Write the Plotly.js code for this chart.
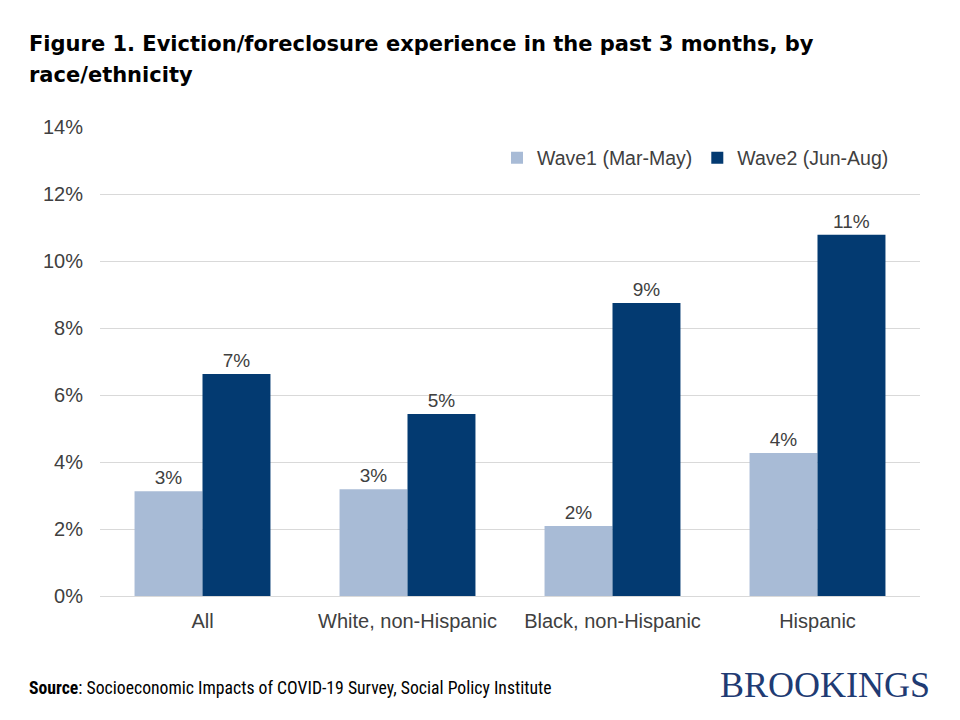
<!DOCTYPE html>
<html><head><meta charset="utf-8">
<script src="https://cdn.plot.ly/plotly-3.0.1.min.js"></script>
<style>html,body{margin:0;padding:0;background:#fff}#chart{width:960px;height:720px}</style>
</head><body><div id="chart"></div>
<script>
const categories = ["All", "White, non-Hispanic", "Black, non-Hispanic", "Hispanic"];
const wave1 = [3.13, 3.19, 2.09, 4.27];
const wave2 = [6.63, 5.43, 8.75, 10.78];
const wave1Labels = ["3%", "3%", "2%", "4%"];
const wave2Labels = ["7%", "5%", "9%", "11%"];
const seriesNames = ["Wave1 (Mar-May)", "Wave2 (Jun-Aug)"];
const yTicks = [0, 2, 4, 6, 8, 10, 12, 14];
const yTickLabels = ["0%", "2%", "4%", "6%", "8%", "10%", "12%", "14%"];
const titleLines = ["Figure 1. Eviction/foreclosure experience in the past 3 months, by", "race/ethnicity"];

const bodyFont = "'Liberation Sans', Arial, sans-serif";
const narrowFont = "'Liberation Sans Narrow', 'Arial Narrow', 'Roboto Condensed', 'Liberation Sans', sans-serif";
const titleFont = "'DejaVu Sans', 'Liberation Sans', sans-serif";

// plot area pixels: top 127, bottom 596
const py = p => (596 - p) / 469;
const px = p => (p - 100) / 820;

const traces = [
  {type: "bar", name: seriesNames[0], x: categories, y: wave1, text: wave1Labels,
   textposition: "outside", cliponaxis: false, constraintext: "none", marker: {color: "#A8BBD6"},
   textfont: {size: 19, color: "#404040", family: bodyFont}, hoverinfo: "none"},
  {type: "bar", name: seriesNames[1], x: categories, y: wave2, text: wave2Labels,
   textposition: "outside", cliponaxis: false, constraintext: "none", marker: {color: "#033A71"},
   textfont: {size: 19, color: "#404040", family: bodyFont}, hoverinfo: "none"}
];

const layout = {
  width: 960, height: 720,
  margin: {l: 100, r: 40, t: 127, b: 124},
  paper_bgcolor: "#fff", plot_bgcolor: "#fff",
  barmode: "group", bargap: 0.337, bargroupgap: 0,
  font: {family: bodyFont, color: "#404040"},
  showlegend: true,
  legend: {orientation: "h", x: px(894), xanchor: "right", y: py(158), yanchor: "middle",
           font: {size: 19.5, color: "#404040", family: bodyFont}, bgcolor: "rgba(0,0,0,0)", traceorder: "normal"},
  xaxis: {type: "category", showgrid: false, zeroline: false, showline: false, ticks: "",
          ticklabelstandoff: 11, tickfont: {size: 20, color: "#404040", family: bodyFont}},
  yaxis: {range: [0, 14], tickvals: yTicks, ticktext: yTickLabels, showgrid: true,
          gridcolor: "#D9D9D9", gridwidth: 1, zeroline: true, zerolinecolor: "#D9D9D9",
          showline: false, ticks: "", ticklen: 0, ticklabelstandoff: 16,
          tickfont: {size: 20, color: "#404040", family: bodyFont}, automargin: false},
  annotations: [
    {text: "<b>" + titleLines[0] + "</b>", xref: "paper", yref: "paper", x: px(27), y: py(44),
     xanchor: "left", yanchor: "middle", showarrow: false,
     font: {family: titleFont, size: 21, color: "#000"}},
    {text: "<b>" + titleLines[1] + "</b>", xref: "paper", yref: "paper", x: px(27), y: py(75),
     xanchor: "left", yanchor: "middle", showarrow: false,
     font: {family: titleFont, size: 21, color: "#000"}},
    {text: "<b>Source</b>: Socioeconomic Impacts of COVID-19 Survey, Social Policy Institute",
     xref: "paper", yref: "paper", x: px(27), y: py(688), xanchor: "left", yanchor: "middle",
     showarrow: false, font: {family: narrowFont, size: 17.7, color: "#000"}},
    {text: "BROOKINGS", xref: "paper", yref: "paper", x: px(932), y: py(685), xanchor: "right", yanchor: "middle",
     showarrow: false,
     font: {family: "'Liberation Serif', 'DejaVu Serif', serif", size: 36, color: "#1F3B73"}}
  ]
};

Plotly.newPlot("chart", traces, layout, {displayModeBar: false, staticPlot: true});
</script></body></html>
